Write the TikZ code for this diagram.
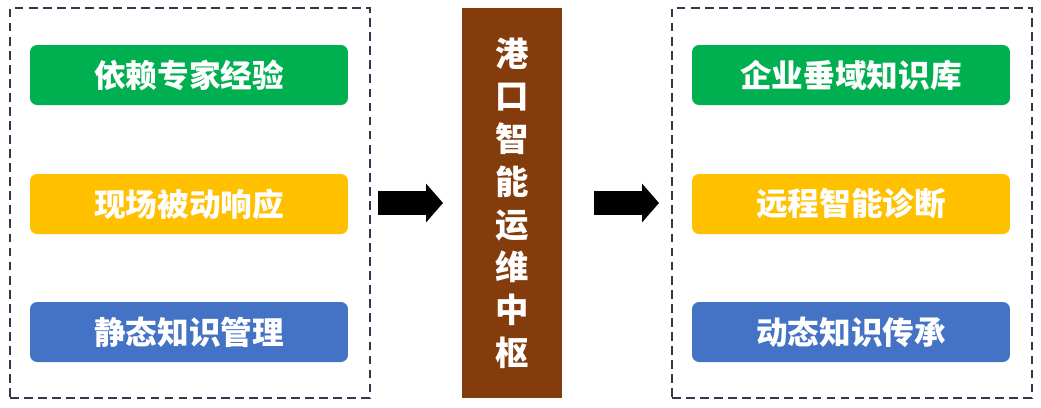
\documentclass[tikz,border=0pt]{standalone}
\usepackage{fontspec}
\newfontfamily\cjk{Noto Sans CJK SC}
\usetikzlibrary{arrows.meta,positioning}
\definecolor{bgreen}{HTML}{00B050}
\definecolor{byellow}{HTML}{FFC000}
\definecolor{bblue}{HTML}{4472C4}
\definecolor{bbrown}{HTML}{843C0C}
\definecolor{frame}{HTML}{2F3B4C}
\begin{document}
\begin{tikzpicture}[x=0.02cm, y=-0.02cm]
\tikzstyle{group}=[draw=frame, thick, dashed, dash pattern=on 5pt off 3pt, minimum width=7.2cm, minimum height=7.8cm, inner sep=0]
\tikzstyle{item}=[rounded corners=4pt, minimum width=6.36cm, minimum height=1.2cm, text=white, font=\cjk\bfseries\fontsize{18}{20}\selectfont]
\tikzstyle{push}=[line width=0.48cm, -{Triangle[length=0.34cm,width=0.76cm]}]
\useasboundingbox (0,0) rectangle (1041,407);
% left group
\node[group] (L) at (190,203) {};
\node[item, fill=bgreen]  (L1) at (189,75)  {依赖专家经验};
\node[item, fill=byellow] (L2) at (189,204) {现场被动响应};
\node[item, fill=bblue]   (L3) at (189,332) {静态知识管理};
% hub
\node[fill=bbrown, minimum width=2cm, minimum height=7.8cm, text=white, align=center,
      font=\cjk\bfseries\fontsize{19}{24.3}\selectfont] (H) at (512,203)
      {港\\口\\智\\能\\运\\维\\中\\枢};
% arrows
\coordinate (A1s) at (378,203);
\coordinate (A1e) at (443,203);
\coordinate (A2s) at (594,203);
\coordinate (A2e) at (659,203);
\draw[push] (A1s) -- (A1e);
\draw[push] (A2s) -- (A2e);
% right group
\node[group] (R) at (852,203) {};
\node[item, fill=bgreen]  (R1) at (851,75)  {企业垂域知识库};
\node[item, fill=byellow] (R2) at (851,204) {远程智能诊断};
\node[item, fill=bblue]   (R3) at (851,332) {动态知识传承};
\end{tikzpicture}
\end{document}
